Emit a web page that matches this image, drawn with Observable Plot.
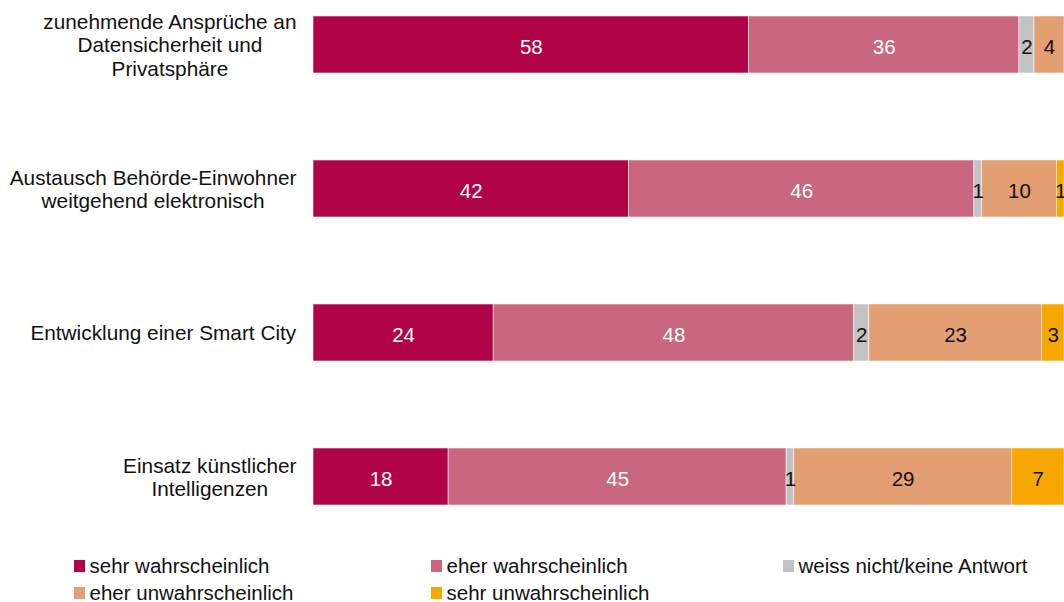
<!DOCTYPE html>
<html>
<head>
<meta charset="utf-8">
<script src="https://cdn.jsdelivr.net/npm/d3@7"></script>
<script src="https://cdn.jsdelivr.net/npm/@observablehq/plot@0.6"></script>
<style>
  html, body { margin: 0; padding: 0; background: #fff; overflow: hidden; }
  body { font-family: "Liberation Sans", Arial, sans-serif; color: #111; }
  #legend {
    display: grid;
    grid-template-columns: 357px 352px 281px;
    padding-left: 74px;
    margin-top: 31px;
    font-size: 20.5px;
    line-height: 27px;
  }
  #legend .item { display: flex; align-items: center; white-space: nowrap; }
  #legend .sw { width: 11px; height: 12px; margin-right: 4.5px; flex: none; }
</style>
</head>
<body>
<div id="chart"></div>
<div id="legend"></div>
<script>
const categories = [
  "zunehmende Ansprüche an\nDatensicherheit und\nPrivatsphäre",
  "Austausch Behörde-Einwohner\nweitgehend elektronisch",
  "Entwicklung einer Smart City",
  "Einsatz künstlicher\nIntelligenzen"
];
const responses = [
  "sehr wahrscheinlich",
  "eher wahrscheinlich",
  "weiss nicht/keine Antwort",
  "eher unwahrscheinlich",
  "sehr unwahrscheinlich"
];
const sehrWahrscheinlich   = [58, 42, 24, 18];
const eherWahrscheinlich   = [36, 46, 48, 45];
const weissNicht           = [2, 1, 2, 1];
const eherUnwahrscheinlich = [4, 10, 23, 29];
const sehrUnwahrscheinlich = [0, 1, 3, 7];

const colors = ["#B00447", "#C9677F", "#C2C2C2", "#E39F73", "#F6A800"];
const labelColors = ["white", "white", "#111", "#111", "#111"];

const series = [sehrWahrscheinlich, eherWahrscheinlich, weissNicht, eherUnwahrscheinlich, sehrUnwahrscheinlich];
const data = [];
categories.forEach((c, i) => {
  responses.forEach((r, j) => {
    data.push({cat: c, resp: r, ri: j, value: series[j][i]});
  });
});
const shown = data.filter(d => d.value > 0);

const plot = Plot.plot({
  width: 1064,
  height: 521,
  marginLeft: 313,
  marginRight: 0,
  marginTop: 0,
  marginBottom: 0,
  x: {domain: [0, 100], axis: null},
  y: {domain: categories, axis: null, paddingInner: 0.604, paddingOuter: 0.111},
  color: {type: "identity"},
  style: {fontFamily: "'Liberation Sans', Arial, sans-serif", fontSize: "20px", background: "white"},
  marks: [
    Plot.barX(shown, Plot.stackX({
      x: "value", y: "cat", z: "resp",
      fill: d => colors[d.ri],
      stroke: "white", strokeWidth: 0.8, strokeOpacity: 0.7
    })),
    Plot.textX(shown, Plot.stackX({
      x: "value", y: "cat", z: "resp",
      text: d => String(d.value),
      fill: d => labelColors[d.ri],
      fontSize: 20.5,
      dy: 2
    })),
    Plot.text(categories, {
      y: d => d,
      text: d => d,
      frameAnchor: "left",
      textAnchor: "end",
      dx: -17,
      lineHeight: 1.12,
      fontSize: 20.8,
      fill: "#111",
      className: "ylab"
    })
  ]
});
document.getElementById("chart").appendChild(plot);

// center the lines of each multi-line category label within its right-aligned block
plot.querySelectorAll("g.ylab text").forEach(t => {
  const w = t.getBBox().width;
  t.setAttribute("text-anchor", "middle");
  const spans = t.querySelectorAll("tspan");
  if (spans.length) {
    spans.forEach(s => s.setAttribute("x", -w / 2));
  } else {
    t.setAttribute("x", -w / 2);
  }
});

// legend
const legend = document.getElementById("legend");
responses.forEach((r, j) => {
  const item = document.createElement("div");
  item.className = "item";
  const sw = document.createElement("span");
  sw.className = "sw";
  sw.style.background = colors[j];
  const tx = document.createElement("span");
  tx.textContent = r;
  item.appendChild(sw);
  item.appendChild(tx);
  legend.appendChild(item);
});
</script>
</body>
</html>
